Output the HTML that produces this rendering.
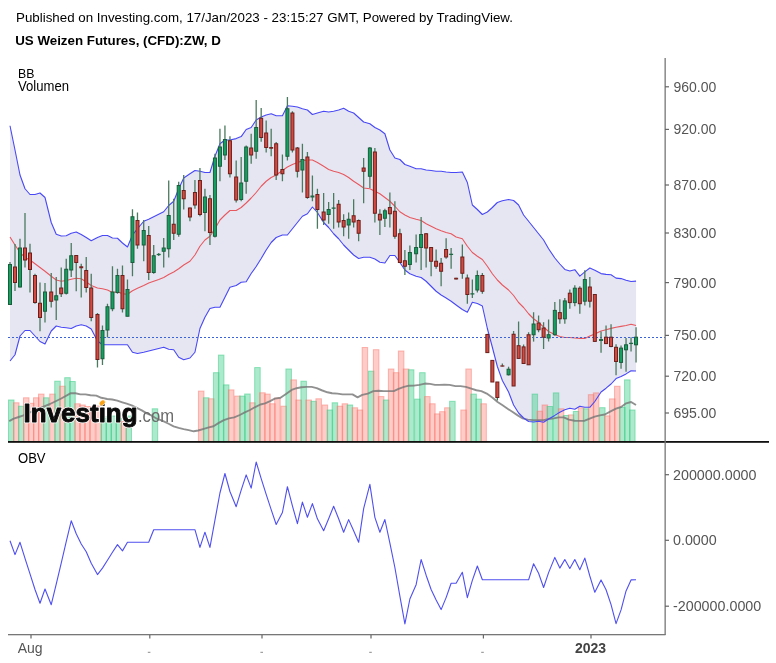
<!DOCTYPE html>
<html><head><meta charset="utf-8"><title>US Weizen Futures, (CFD):ZW, D</title>
<style>
html,body{margin:0;padding:0;background:#fff;}
body{width:776px;height:663px;overflow:hidden;position:relative;font-family:"Liberation Sans",Arial,sans-serif;}
#hdr{position:absolute;left:16px;top:9.8px;font-size:13.33px;line-height:16px;color:#000;white-space:nowrap;}
#ttl{position:absolute;left:15.2px;top:33px;font-size:13.33px;line-height:16px;font-weight:bold;color:#000;white-space:nowrap;}
svg{position:absolute;left:0;top:0;}
svg text{font-family:"Liberation Sans",Arial,sans-serif;}
</style></head><body>
<div id="hdr">Published on Investing.com, 17/Jan/2023 - 23:15:27 GMT, Powered by TradingView.</div>
<div id="ttl">US Weizen Futures, (CFD):ZW, D</div>
<svg width="776" height="663" viewBox="0 0 776 663">

<polygon fill="#e6e6f2" points="10,125.75 15,150 20,175 25,188.75 30,194.5 35,194.5 40,193 45,197.5 51.23,222.5 56.23,234.25 61.23,236 66.23,235.75 71.23,233.25 76.23,232 81.23,234.5 86.23,237.5 91.23,240.75 97.47,237.5 102.47,235.5 107.47,235.5 112.47,238 117.47,238.25 122.47,243 127.47,247 132.47,235 137.47,228.75 143.71,221.25 148.71,219.25 153.71,216.75 158.71,214.25 163.71,211.75 168.71,205.5 173.71,201.25 178.71,188.75 183.71,178 189.94,173.75 194.94,170.5 199.94,171.25 204.94,172.5 209.94,172.5 214.94,156.25 219.94,143.75 224.94,140 229.94,140 236.18,138.6 241.18,136.6 246.18,129.5 251.18,127.5 256.18,120 261.18,117 266.18,115 271.18,113.75 276.18,115.75 282.41,115.75 287.41,105.75 292.41,106.25 297.41,107 302.41,108.75 307.41,110 312.41,114.5 317.41,113 323.64,111.25 328.64,112 333.64,111.25 338.64,110 343.64,108.25 348.64,111.25 353.64,113 358.64,117.5 363.64,122 369.88,123.75 374.88,127.5 379.88,130 384.88,133.75 389.88,150 394.88,158 399.88,159.5 404.88,164.5 409.88,166.25 416.12,168.75 421.12,168.75 426.12,170 431.12,170.5 436.12,171.25 441.12,171.25 446.12,172 451.12,172.5 456.12,172.5 462.35,172 467.35,182.5 472.35,205 477.35,209.5 482.35,214.5 487.35,212 492.35,207.5 497.35,202.5 502.35,200.75 508.58,199.5 513.59,200.5 518.59,205 523.59,215 528.59,221.25 533.59,227.5 538.59,233.75 543.59,240 548.59,248.75 554.82,258 559.82,264 564.82,269.4 569.82,271 574.82,269.7 579.82,276.1 584.82,271.9 589.82,268 594.82,270.2 601.05,273.6 606.05,274.4 611.05,274.8 616.05,278.1 621.05,278.6 626.05,280.3 631.05,281.5 636.05,281.1 636.05,371 631.05,370.7 626.05,373.9 621.05,376.5 616.05,378.6 611.05,384 606.05,388.2 601.05,392 594.82,401.5 589.82,407.3 584.82,407.3 579.82,406.2 574.82,409.2 569.82,408.3 564.82,409.7 559.82,412.2 554.82,415.4 548.59,419 543.59,422.2 538.59,421.2 533.59,422 528.59,421.5 523.59,418 518.59,413 513.59,405 508.58,392 502.35,380.5 497.35,366.5 492.35,347.25 487.35,328.5 482.35,306 477.35,303.5 472.35,302.25 467.35,312.25 462.35,309.5 456.12,305 451.12,301.25 446.12,298 441.12,295 436.12,291.25 431.12,286.25 426.12,281.25 421.12,277.5 416.12,276.25 409.88,273.75 404.88,270 399.88,262.5 394.88,255.5 389.88,255.5 384.88,263 379.88,262.25 374.88,259 369.88,257.25 363.64,257.25 358.64,258.5 353.64,255 348.64,250 343.64,245 338.64,238.75 333.64,233.75 328.64,227.5 323.64,222.5 317.41,212.5 312.41,207 307.41,213.75 302.41,216.25 297.41,222.5 292.41,228.75 287.41,235 282.41,235 276.18,237.5 271.18,242.5 266.18,250 261.18,258.5 256.18,266.5 251.18,273.5 246.18,281.75 241.18,282.25 236.18,285.5 229.94,287.25 224.94,297.25 219.94,307.25 214.94,307.25 209.94,308.5 204.94,317.25 199.94,328.5 194.94,352.25 189.94,358 183.71,359.75 178.71,357.25 173.71,349.75 168.71,349.25 163.71,347.25 158.71,348.5 153.71,349.75 148.71,351 143.71,352.25 137.47,353.5 132.47,352.25 127.47,344.75 122.47,344.75 117.47,344.75 112.47,344.75 107.47,344.75 102.47,344.75 97.47,341 91.23,329 86.23,326 81.23,324.75 76.23,326 71.23,328.5 66.23,327.75 61.23,327.25 56.23,326 51.23,331 45,344 40,341.5 35,336 30,330.5 25,330.5 20,336 15,354.75 10,361"/>
<g stroke-width="1">
<rect x="8.5" y="400" width="5.5" height="41.8" fill="rgba(60,205,135,0.42)" stroke="rgba(60,205,135,0.55)"/>
<rect x="13.5" y="402.8" width="5.5" height="39" fill="rgba(255,120,110,0.38)" stroke="rgba(250,120,110,0.5)"/>
<rect x="18.5" y="406.2" width="5.5" height="35.6" fill="rgba(60,205,135,0.42)" stroke="rgba(60,205,135,0.55)"/>
<rect x="23.5" y="397.8" width="5.5" height="44" fill="rgba(255,120,110,0.38)" stroke="rgba(250,120,110,0.5)"/>
<rect x="28.5" y="403.3" width="5.5" height="38.5" fill="rgba(255,120,110,0.38)" stroke="rgba(250,120,110,0.5)"/>
<rect x="33.5" y="397.8" width="5.5" height="44" fill="rgba(255,120,110,0.38)" stroke="rgba(250,120,110,0.5)"/>
<rect x="38.5" y="394.1" width="5.5" height="47.7" fill="rgba(255,120,110,0.38)" stroke="rgba(250,120,110,0.5)"/>
<rect x="43.5" y="397.8" width="5.5" height="44" fill="rgba(60,205,135,0.42)" stroke="rgba(60,205,135,0.55)"/>
<rect x="49.73" y="394.1" width="5.5" height="47.7" fill="rgba(255,120,110,0.38)" stroke="rgba(250,120,110,0.5)"/>
<rect x="54.73" y="381.2" width="5.5" height="60.6" fill="rgba(60,205,135,0.42)" stroke="rgba(60,205,135,0.55)"/>
<rect x="59.73" y="386.2" width="5.5" height="55.6" fill="rgba(255,120,110,0.38)" stroke="rgba(250,120,110,0.5)"/>
<rect x="64.73" y="377.7" width="5.5" height="64.1" fill="rgba(60,205,135,0.42)" stroke="rgba(60,205,135,0.55)"/>
<rect x="69.73" y="381.5" width="5.5" height="60.3" fill="rgba(60,205,135,0.42)" stroke="rgba(60,205,135,0.55)"/>
<rect x="74.73" y="403.8" width="5.5" height="38" fill="rgba(255,120,110,0.38)" stroke="rgba(250,120,110,0.5)"/>
<rect x="79.73" y="405" width="5.5" height="36.8" fill="rgba(255,120,110,0.38)" stroke="rgba(250,120,110,0.5)"/>
<rect x="84.73" y="406.5" width="5.5" height="35.3" fill="rgba(255,120,110,0.38)" stroke="rgba(250,120,110,0.5)"/>
<rect x="89.73" y="407" width="5.5" height="34.8" fill="rgba(255,120,110,0.38)" stroke="rgba(250,120,110,0.5)"/>
<rect x="95.97" y="406" width="5.5" height="35.8" fill="rgba(255,120,110,0.38)" stroke="rgba(250,120,110,0.5)"/>
<rect x="100.97" y="418.5" width="5.5" height="23.3" fill="rgba(60,205,135,0.42)" stroke="rgba(60,205,135,0.55)"/>
<rect x="105.97" y="416.5" width="5.5" height="25.3" fill="rgba(60,205,135,0.42)" stroke="rgba(60,205,135,0.55)"/>
<rect x="110.97" y="416" width="5.5" height="25.8" fill="rgba(60,205,135,0.42)" stroke="rgba(60,205,135,0.55)"/>
<rect x="115.97" y="418.5" width="5.5" height="23.3" fill="rgba(60,205,135,0.42)" stroke="rgba(60,205,135,0.55)"/>
<rect x="120.97" y="421.5" width="5.5" height="20.3" fill="rgba(255,120,110,0.38)" stroke="rgba(250,120,110,0.5)"/>
<rect x="125.97" y="416" width="5.5" height="25.8" fill="rgba(60,205,135,0.42)" stroke="rgba(60,205,135,0.55)"/>
<rect x="152.21" y="408.8" width="5.5" height="33" fill="rgba(60,205,135,0.42)" stroke="rgba(60,205,135,0.55)"/>
<rect x="198.44" y="391.1" width="5.5" height="50.7" fill="rgba(255,120,110,0.38)" stroke="rgba(250,120,110,0.5)"/>
<rect x="203.44" y="397.8" width="5.5" height="44" fill="rgba(60,205,135,0.42)" stroke="rgba(60,205,135,0.55)"/>
<rect x="208.44" y="398.8" width="5.5" height="43" fill="rgba(255,120,110,0.38)" stroke="rgba(250,120,110,0.5)"/>
<rect x="213.44" y="372.7" width="5.5" height="69.1" fill="rgba(60,205,135,0.42)" stroke="rgba(60,205,135,0.55)"/>
<rect x="218.44" y="355.1" width="5.5" height="86.7" fill="rgba(60,205,135,0.42)" stroke="rgba(60,205,135,0.55)"/>
<rect x="223.44" y="384.9" width="5.5" height="56.9" fill="rgba(60,205,135,0.42)" stroke="rgba(60,205,135,0.55)"/>
<rect x="228.44" y="389.9" width="5.5" height="51.9" fill="rgba(255,120,110,0.38)" stroke="rgba(250,120,110,0.5)"/>
<rect x="234.68" y="396.1" width="5.5" height="45.7" fill="rgba(255,120,110,0.38)" stroke="rgba(250,120,110,0.5)"/>
<rect x="239.68" y="396.1" width="5.5" height="45.7" fill="rgba(60,205,135,0.42)" stroke="rgba(60,205,135,0.55)"/>
<rect x="244.68" y="394" width="5.5" height="47.8" fill="rgba(60,205,135,0.42)" stroke="rgba(60,205,135,0.55)"/>
<rect x="249.68" y="402.8" width="5.5" height="39" fill="rgba(255,120,110,0.38)" stroke="rgba(250,120,110,0.5)"/>
<rect x="254.68" y="367.6" width="5.5" height="74.2" fill="rgba(60,205,135,0.42)" stroke="rgba(60,205,135,0.55)"/>
<rect x="259.68" y="392.8" width="5.5" height="49" fill="rgba(255,120,110,0.38)" stroke="rgba(250,120,110,0.5)"/>
<rect x="264.68" y="394.1" width="5.5" height="47.7" fill="rgba(255,120,110,0.38)" stroke="rgba(250,120,110,0.5)"/>
<rect x="269.68" y="403.8" width="5.5" height="38" fill="rgba(255,120,110,0.38)" stroke="rgba(250,120,110,0.5)"/>
<rect x="274.68" y="398" width="5.5" height="43.8" fill="rgba(255,120,110,0.38)" stroke="rgba(250,120,110,0.5)"/>
<rect x="280.91" y="406.2" width="5.5" height="35.6" fill="rgba(255,120,110,0.38)" stroke="rgba(250,120,110,0.5)"/>
<rect x="285.91" y="369" width="5.5" height="72.8" fill="rgba(60,205,135,0.42)" stroke="rgba(60,205,135,0.55)"/>
<rect x="290.91" y="379.9" width="5.5" height="61.9" fill="rgba(255,120,110,0.38)" stroke="rgba(250,120,110,0.5)"/>
<rect x="295.91" y="400" width="5.5" height="41.8" fill="rgba(255,120,110,0.38)" stroke="rgba(250,120,110,0.5)"/>
<rect x="300.91" y="381.2" width="5.5" height="60.6" fill="rgba(60,205,135,0.42)" stroke="rgba(60,205,135,0.55)"/>
<rect x="305.91" y="400" width="5.5" height="41.8" fill="rgba(255,120,110,0.38)" stroke="rgba(250,120,110,0.5)"/>
<rect x="310.91" y="401.3" width="5.5" height="40.5" fill="rgba(60,205,135,0.42)" stroke="rgba(60,205,135,0.55)"/>
<rect x="315.91" y="398.8" width="5.5" height="43" fill="rgba(255,120,110,0.38)" stroke="rgba(250,120,110,0.5)"/>
<rect x="322.14" y="405" width="5.5" height="36.8" fill="rgba(255,120,110,0.38)" stroke="rgba(250,120,110,0.5)"/>
<rect x="327.14" y="410" width="5.5" height="31.8" fill="rgba(60,205,135,0.42)" stroke="rgba(60,205,135,0.55)"/>
<rect x="332.14" y="402.8" width="5.5" height="39" fill="rgba(60,205,135,0.42)" stroke="rgba(60,205,135,0.55)"/>
<rect x="337.14" y="406.2" width="5.5" height="35.6" fill="rgba(255,120,110,0.38)" stroke="rgba(250,120,110,0.5)"/>
<rect x="342.14" y="403.8" width="5.5" height="38" fill="rgba(255,120,110,0.38)" stroke="rgba(250,120,110,0.5)"/>
<rect x="347.14" y="405" width="5.5" height="36.8" fill="rgba(60,205,135,0.42)" stroke="rgba(60,205,135,0.55)"/>
<rect x="352.14" y="407.8" width="5.5" height="34" fill="rgba(255,120,110,0.38)" stroke="rgba(250,120,110,0.5)"/>
<rect x="357.14" y="410" width="5.5" height="31.8" fill="rgba(255,120,110,0.38)" stroke="rgba(250,120,110,0.5)"/>
<rect x="362.14" y="347.5" width="5.5" height="94.3" fill="rgba(255,120,110,0.38)" stroke="rgba(250,120,110,0.5)"/>
<rect x="368.38" y="371.15" width="5.5" height="70.65" fill="rgba(60,205,135,0.42)" stroke="rgba(60,205,135,0.55)"/>
<rect x="373.38" y="349.7" width="5.5" height="92.1" fill="rgba(255,120,110,0.38)" stroke="rgba(250,120,110,0.5)"/>
<rect x="378.38" y="396.6" width="5.5" height="45.2" fill="rgba(255,120,110,0.38)" stroke="rgba(250,120,110,0.5)"/>
<rect x="383.38" y="400" width="5.5" height="41.8" fill="rgba(60,205,135,0.42)" stroke="rgba(60,205,135,0.55)"/>
<rect x="388.38" y="369" width="5.5" height="72.8" fill="rgba(255,120,110,0.38)" stroke="rgba(250,120,110,0.5)"/>
<rect x="393.38" y="372.7" width="5.5" height="69.1" fill="rgba(255,120,110,0.38)" stroke="rgba(250,120,110,0.5)"/>
<rect x="398.38" y="351" width="5.5" height="90.8" fill="rgba(255,120,110,0.38)" stroke="rgba(250,120,110,0.5)"/>
<rect x="403.38" y="369" width="5.5" height="72.8" fill="rgba(255,120,110,0.38)" stroke="rgba(250,120,110,0.5)"/>
<rect x="408.38" y="369.8" width="5.5" height="72" fill="rgba(60,205,135,0.42)" stroke="rgba(60,205,135,0.55)"/>
<rect x="414.62" y="399.1" width="5.5" height="42.7" fill="rgba(60,205,135,0.42)" stroke="rgba(60,205,135,0.55)"/>
<rect x="419.62" y="372.7" width="5.5" height="69.1" fill="rgba(60,205,135,0.42)" stroke="rgba(60,205,135,0.55)"/>
<rect x="424.62" y="396.6" width="5.5" height="45.2" fill="rgba(255,120,110,0.38)" stroke="rgba(250,120,110,0.5)"/>
<rect x="429.62" y="403.8" width="5.5" height="38" fill="rgba(255,120,110,0.38)" stroke="rgba(250,120,110,0.5)"/>
<rect x="434.62" y="413.9" width="5.5" height="27.9" fill="rgba(255,120,110,0.38)" stroke="rgba(250,120,110,0.5)"/>
<rect x="439.62" y="411.7" width="5.5" height="30.1" fill="rgba(255,120,110,0.38)" stroke="rgba(250,120,110,0.5)"/>
<rect x="444.62" y="407.8" width="5.5" height="34" fill="rgba(255,120,110,0.38)" stroke="rgba(250,120,110,0.5)"/>
<rect x="449.62" y="401.3" width="5.5" height="40.5" fill="rgba(60,205,135,0.42)" stroke="rgba(60,205,135,0.55)"/>
<rect x="460.85" y="410" width="5.5" height="31.8" fill="rgba(255,120,110,0.38)" stroke="rgba(250,120,110,0.5)"/>
<rect x="465.85" y="369" width="5.5" height="72.8" fill="rgba(255,120,110,0.38)" stroke="rgba(250,120,110,0.5)"/>
<rect x="470.85" y="394.1" width="5.5" height="47.7" fill="rgba(60,205,135,0.42)" stroke="rgba(60,205,135,0.55)"/>
<rect x="475.85" y="399.1" width="5.5" height="42.7" fill="rgba(60,205,135,0.42)" stroke="rgba(60,205,135,0.55)"/>
<rect x="480.85" y="403.8" width="5.5" height="38" fill="rgba(255,120,110,0.38)" stroke="rgba(250,120,110,0.5)"/>
<rect x="532.09" y="394.1" width="5.5" height="47.7" fill="rgba(60,205,135,0.42)" stroke="rgba(60,205,135,0.55)"/>
<rect x="537.09" y="411.2" width="5.5" height="30.6" fill="rgba(255,120,110,0.38)" stroke="rgba(250,120,110,0.5)"/>
<rect x="542.09" y="405" width="5.5" height="36.8" fill="rgba(255,120,110,0.38)" stroke="rgba(250,120,110,0.5)"/>
<rect x="547.09" y="406.5" width="5.5" height="35.3" fill="rgba(60,205,135,0.42)" stroke="rgba(60,205,135,0.55)"/>
<rect x="553.32" y="392.9" width="5.5" height="48.9" fill="rgba(60,205,135,0.42)" stroke="rgba(60,205,135,0.55)"/>
<rect x="558.32" y="408.8" width="5.5" height="33" fill="rgba(255,120,110,0.38)" stroke="rgba(250,120,110,0.5)"/>
<rect x="563.32" y="415.5" width="5.5" height="26.3" fill="rgba(60,205,135,0.42)" stroke="rgba(60,205,135,0.55)"/>
<rect x="568.32" y="414.9" width="5.5" height="26.9" fill="rgba(255,120,110,0.38)" stroke="rgba(250,120,110,0.5)"/>
<rect x="573.32" y="411.5" width="5.5" height="30.3" fill="rgba(60,205,135,0.42)" stroke="rgba(60,205,135,0.55)"/>
<rect x="578.32" y="407.8" width="5.5" height="34" fill="rgba(255,120,110,0.38)" stroke="rgba(250,120,110,0.5)"/>
<rect x="583.32" y="408.8" width="5.5" height="33" fill="rgba(60,205,135,0.42)" stroke="rgba(60,205,135,0.55)"/>
<rect x="588.32" y="394.7" width="5.5" height="47.1" fill="rgba(255,120,110,0.38)" stroke="rgba(250,120,110,0.5)"/>
<rect x="593.32" y="392.9" width="5.5" height="48.9" fill="rgba(255,120,110,0.38)" stroke="rgba(250,120,110,0.5)"/>
<rect x="599.55" y="407.7" width="5.5" height="34.1" fill="rgba(60,205,135,0.42)" stroke="rgba(60,205,135,0.55)"/>
<rect x="604.55" y="415.9" width="5.5" height="25.9" fill="rgba(255,120,110,0.38)" stroke="rgba(250,120,110,0.5)"/>
<rect x="609.55" y="398.9" width="5.5" height="42.9" fill="rgba(255,120,110,0.38)" stroke="rgba(250,120,110,0.5)"/>
<rect x="614.55" y="386.25" width="5.5" height="55.55" fill="rgba(255,120,110,0.38)" stroke="rgba(250,120,110,0.5)"/>
<rect x="619.55" y="407.5" width="5.5" height="34.3" fill="rgba(60,205,135,0.42)" stroke="rgba(60,205,135,0.55)"/>
<rect x="624.55" y="379.9" width="5.5" height="61.9" fill="rgba(60,205,135,0.42)" stroke="rgba(60,205,135,0.55)"/>
<rect x="629.55" y="410" width="5.5" height="31.8" fill="rgba(60,205,135,0.42)" stroke="rgba(60,205,135,0.55)"/>
</g>
<polyline fill="none" stroke="#787878" stroke-opacity="0.82" stroke-width="1.9" stroke-linejoin="round" points="9.2,421.2 13.7,418.7 18.8,417 23.5,415.4 28.8,412.9 50,404 61.25,398.5 70.4,393.3 75.4,393.3 80.4,394.4 85.4,394.4 90.5,395.3 96.3,395.6 101.3,397.8 107.2,399 112.2,399.5 117.3,400.6 122.3,402.3 126.7,403.7 131.7,405.3 136.75,407.8 141.8,410.4 146.8,413.4 151.8,415.7 156.9,418.7 163.2,421.2 168.6,423.75 173.6,426.3 178.6,427.9 183.65,429.1 188.7,430.1 193.7,431.3 198.2,430.5 203.75,428.8 208.8,427.4 213.5,426.3 218.8,422.9 223.85,420.1 228.9,418.4 234.2,417.4 239.8,415 244.8,412.4 250,410 254.7,407.3 260.4,404.5 265.1,403.3 270.1,401.1 274.8,398.6 280.5,397.8 286,393.9 291.6,389.9 296.6,388.2 301.3,387.2 306.6,386.9 311.7,386.9 316.7,388.2 321.7,390.25 327.4,392.3 332.1,393.3 337.5,393.6 342.5,394.4 347.5,394.4 352.5,394.4 357.6,397.3 362.25,394.9 367.8,393.6 373.35,391.1 378.7,390.75 383.7,391.1 388.4,391.1 393.8,391.1 398.5,388.9 404,386.9 408.9,385.7 413.9,385.6 419.4,384.9 424.9,383.55 430,383.9 435,384.9 439.5,384.9 444.5,384.7 449.6,384.9 455.4,386.1 460.45,386.1 465.8,386.9 471.3,388.6 476.4,390.25 481.4,391.1 486.75,393.6 492.6,397.8 497.6,402 502.6,405.3 507.6,408.7 512.7,412 517.7,415.4 522.7,418.4 527.7,419.6 533.6,420.1 538.6,420.1 543.65,420.1 548.7,419 553.7,418.4 558.7,417.4 563.75,417.4 568.8,419.6 574.6,420.7 579.7,420.9 584.7,420.7 589.7,418.7 594.7,416.7 599.8,415.4 604.8,414.5 611,411.2 616,408.7 621.1,407 626.1,403.3 631.1,402 636,405"/>
<polyline fill="none" stroke="#4848f6" stroke-width="1.1" stroke-linejoin="round" points="10,125.75 15,150 20,175 25,188.75 30,194.5 35,194.5 40,193 45,197.5 51.23,222.5 56.23,234.25 61.23,236 66.23,235.75 71.23,233.25 76.23,232 81.23,234.5 86.23,237.5 91.23,240.75 97.47,237.5 102.47,235.5 107.47,235.5 112.47,238 117.47,238.25 122.47,243 127.47,247 132.47,235 137.47,228.75 143.71,221.25 148.71,219.25 153.71,216.75 158.71,214.25 163.71,211.75 168.71,205.5 173.71,201.25 178.71,188.75 183.71,178 189.94,173.75 194.94,170.5 199.94,171.25 204.94,172.5 209.94,172.5 214.94,156.25 219.94,143.75 224.94,140 229.94,140 236.18,138.6 241.18,136.6 246.18,129.5 251.18,127.5 256.18,120 261.18,117 266.18,115 271.18,113.75 276.18,115.75 282.41,115.75 287.41,105.75 292.41,106.25 297.41,107 302.41,108.75 307.41,110 312.41,114.5 317.41,113 323.64,111.25 328.64,112 333.64,111.25 338.64,110 343.64,108.25 348.64,111.25 353.64,113 358.64,117.5 363.64,122 369.88,123.75 374.88,127.5 379.88,130 384.88,133.75 389.88,150 394.88,158 399.88,159.5 404.88,164.5 409.88,166.25 416.12,168.75 421.12,168.75 426.12,170 431.12,170.5 436.12,171.25 441.12,171.25 446.12,172 451.12,172.5 456.12,172.5 462.35,172 467.35,182.5 472.35,205 477.35,209.5 482.35,214.5 487.35,212 492.35,207.5 497.35,202.5 502.35,200.75 508.58,199.5 513.59,200.5 518.59,205 523.59,215 528.59,221.25 533.59,227.5 538.59,233.75 543.59,240 548.59,248.75 554.82,258 559.82,264 564.82,269.4 569.82,271 574.82,269.7 579.82,276.1 584.82,271.9 589.82,268 594.82,270.2 601.05,273.6 606.05,274.4 611.05,274.8 616.05,278.1 621.05,278.6 626.05,280.3 631.05,281.5 636.05,281.1"/>
<polyline fill="none" stroke="#4848f6" stroke-width="1.1" stroke-linejoin="round" points="10,361 15,354.75 20,336 25,330.5 30,330.5 35,336 40,341.5 45,344 51.23,331 56.23,326 61.23,327.25 66.23,327.75 71.23,328.5 76.23,326 81.23,324.75 86.23,326 91.23,329 97.47,341 102.47,344.75 107.47,344.75 112.47,344.75 117.47,344.75 122.47,344.75 127.47,344.75 132.47,352.25 137.47,353.5 143.71,352.25 148.71,351 153.71,349.75 158.71,348.5 163.71,347.25 168.71,349.25 173.71,349.75 178.71,357.25 183.71,359.75 189.94,358 194.94,352.25 199.94,328.5 204.94,317.25 209.94,308.5 214.94,307.25 219.94,307.25 224.94,297.25 229.94,287.25 236.18,285.5 241.18,282.25 246.18,281.75 251.18,273.5 256.18,266.5 261.18,258.5 266.18,250 271.18,242.5 276.18,237.5 282.41,235 287.41,235 292.41,228.75 297.41,222.5 302.41,216.25 307.41,213.75 312.41,207 317.41,212.5 323.64,222.5 328.64,227.5 333.64,233.75 338.64,238.75 343.64,245 348.64,250 353.64,255 358.64,258.5 363.64,257.25 369.88,257.25 374.88,259 379.88,262.25 384.88,263 389.88,255.5 394.88,255.5 399.88,262.5 404.88,270 409.88,273.75 416.12,276.25 421.12,277.5 426.12,281.25 431.12,286.25 436.12,291.25 441.12,295 446.12,298 451.12,301.25 456.12,305 462.35,309.5 467.35,312.25 472.35,302.25 477.35,303.5 482.35,306 487.35,328.5 492.35,347.25 497.35,366.5 502.35,380.5 508.58,392 513.59,405 518.59,413 523.59,418 528.59,421.5 533.59,422 538.59,421.2 543.59,422.2 548.59,419 554.82,415.4 559.82,412.2 564.82,409.7 569.82,408.3 574.82,409.2 579.82,406.2 584.82,407.3 589.82,407.3 594.82,401.5 601.05,392 606.05,388.2 611.05,384 616.05,378.6 621.05,376.5 626.05,373.9 631.05,370.7 636.05,371"/>
<polyline fill="none" stroke="#e8585f" stroke-width="1.1" stroke-linejoin="round" points="10,237 15,245 20,252.5 25,257.5 30,260 35,263.75 40,267.5 45,271.25 51.23,276.25 56.23,280 61.23,281.25 66.23,280.5 71.23,279.25 76.23,278.25 81.23,278.75 86.23,282 91.23,285.5 97.47,288 102.47,288.75 107.47,290 112.47,292.5 117.47,291.75 122.47,293.75 127.47,294.25 132.47,290.75 137.47,288.25 143.71,285.5 148.71,283 153.71,281.25 158.71,279.5 163.71,277.5 168.71,274.5 173.71,272 178.71,268.75 183.71,265 189.94,261.25 194.94,255 199.94,246.25 204.94,240 209.94,236.25 214.94,228.75 219.94,220 224.94,215 229.94,210.5 236.18,210.5 241.18,207.5 246.18,203 251.18,198 256.18,192.5 261.18,186.25 266.18,181.25 271.18,177.5 276.18,175 282.41,170.5 287.41,167 292.41,164.5 297.41,162.5 302.41,160.75 307.41,160 312.41,160 317.41,162.5 323.64,166.25 328.64,169.5 333.64,171.25 338.64,172.5 343.64,174.5 348.64,177.5 353.64,181.25 358.64,184.5 363.64,188 369.88,188.75 374.88,191.25 379.88,193.75 384.88,197.5 389.88,201.25 394.88,206.25 399.88,211.75 404.88,215 409.88,217.5 416.12,219.25 421.12,220.5 426.12,223.75 431.12,226.25 436.12,228.75 441.12,230.75 446.12,232.5 451.12,233.75 456.12,237 462.35,238.75 467.35,246.25 472.35,252.5 477.35,256.25 482.35,259.5 487.35,266.25 492.35,273.75 497.35,280 502.35,285 508.58,290 513.59,295.5 518.59,302.5 523.59,307.5 528.59,313.75 533.59,318.75 538.59,322.5 543.59,327 548.59,331.5 554.82,334.5 559.82,336.5 564.82,337.5 569.82,337.5 574.82,338 579.82,338.4 584.82,338.4 589.82,336.1 594.82,333.9 601.05,331 606.05,329.7 611.05,328.4 616.05,327.2 621.05,326.4 626.05,325.5 631.05,324.3 636.05,325.5"/>
<line x1="8" y1="337.5" x2="665" y2="337.5" stroke="#3b63d8" stroke-width="1.2" stroke-dasharray="2,2"/>
<g>
<line x1="10" y1="262" x2="10" y2="305" stroke="#4a7a5f" stroke-width="1.3"/>
<rect x="8.5" y="264.5" width="3" height="40" fill="#14a160" stroke="#1a5c3b" stroke-width="1"/>
<line x1="15" y1="244" x2="15" y2="291" stroke="#4a7a5f" stroke-width="1.3"/>
<rect x="13.5" y="267" width="3" height="15.5" fill="#d54a40" stroke="#6b1f1a" stroke-width="1"/>
<line x1="20" y1="238.75" x2="20" y2="287.5" stroke="#4a7a5f" stroke-width="1.3"/>
<rect x="18.5" y="248" width="3" height="39" fill="#14a160" stroke="#1a5c3b" stroke-width="1"/>
<line x1="25" y1="213" x2="25" y2="267.5" stroke="#4a7a5f" stroke-width="1.3"/>
<rect x="23.5" y="248" width="3" height="12" fill="#d54a40" stroke="#6b1f1a" stroke-width="1"/>
<line x1="30" y1="243.75" x2="30" y2="292.5" stroke="#4a7a5f" stroke-width="1.3"/>
<rect x="28.5" y="253" width="3" height="16.5" fill="#d54a40" stroke="#6b1f1a" stroke-width="1"/>
<line x1="35" y1="273.75" x2="35" y2="303.75" stroke="#4a7a5f" stroke-width="1.3"/>
<rect x="33.5" y="275.5" width="3" height="27" fill="#d54a40" stroke="#6b1f1a" stroke-width="1"/>
<line x1="40" y1="282.5" x2="40" y2="331.25" stroke="#4a7a5f" stroke-width="1.3"/>
<rect x="38.5" y="303.25" width="3" height="14.25" fill="#d54a40" stroke="#6b1f1a" stroke-width="1"/>
<line x1="45" y1="283" x2="45" y2="322.5" stroke="#4a7a5f" stroke-width="1.3"/>
<rect x="43.5" y="292" width="3" height="19.25" fill="#14a160" stroke="#1a5c3b" stroke-width="1"/>
<line x1="51.23" y1="273" x2="51.23" y2="307.5" stroke="#4a7a5f" stroke-width="1.3"/>
<rect x="49.73" y="292" width="3" height="9.25" fill="#d54a40" stroke="#6b1f1a" stroke-width="1"/>
<line x1="56.23" y1="277" x2="56.23" y2="320" stroke="#4a7a5f" stroke-width="1.3"/>
<rect x="54.73" y="295.75" width="3" height="4.25" fill="#14a160" stroke="#1a5c3b" stroke-width="1"/>
<line x1="61.23" y1="267.5" x2="61.23" y2="297" stroke="#4a7a5f" stroke-width="1.3"/>
<rect x="59.73" y="288" width="3" height="5.75" fill="#d54a40" stroke="#6b1f1a" stroke-width="1"/>
<line x1="66.23" y1="258.75" x2="66.23" y2="294.5" stroke="#4a7a5f" stroke-width="1.3"/>
<rect x="64.73" y="269.25" width="3" height="24" fill="#14a160" stroke="#1a5c3b" stroke-width="1"/>
<line x1="71.23" y1="243" x2="71.23" y2="277" stroke="#4a7a5f" stroke-width="1.3"/>
<rect x="69.73" y="255.75" width="3" height="14.25" fill="#14a160" stroke="#1a5c3b" stroke-width="1"/>
<line x1="76.23" y1="255" x2="76.23" y2="291.25" stroke="#4a7a5f" stroke-width="1.3"/>
<rect x="74.73" y="255.5" width="3" height="7" fill="#d54a40" stroke="#6b1f1a" stroke-width="1"/>
<line x1="81.23" y1="263.75" x2="81.23" y2="297.5" stroke="#4a7a5f" stroke-width="1.3"/>
<rect x="79.23" y="266.25" width="4" height="2" fill="#7a2420"/>
<line x1="86.23" y1="257" x2="86.23" y2="292.5" stroke="#4a7a5f" stroke-width="1.3"/>
<rect x="84.73" y="270.5" width="3" height="17" fill="#d54a40" stroke="#6b1f1a" stroke-width="1"/>
<line x1="91.23" y1="273.75" x2="91.23" y2="321.25" stroke="#4a7a5f" stroke-width="1.3"/>
<rect x="89.73" y="288" width="3" height="29.5" fill="#d54a40" stroke="#6b1f1a" stroke-width="1"/>
<line x1="97.47" y1="313" x2="97.47" y2="367.5" stroke="#4a7a5f" stroke-width="1.3"/>
<rect x="95.97" y="314.5" width="3" height="45" fill="#d54a40" stroke="#6b1f1a" stroke-width="1"/>
<line x1="102.47" y1="325.5" x2="102.47" y2="365" stroke="#4a7a5f" stroke-width="1.3"/>
<rect x="100.97" y="330.5" width="3" height="28.25" fill="#14a160" stroke="#1a5c3b" stroke-width="1"/>
<line x1="107.47" y1="303.75" x2="107.47" y2="337.5" stroke="#4a7a5f" stroke-width="1.3"/>
<rect x="105.97" y="306.75" width="3" height="23.25" fill="#14a160" stroke="#1a5c3b" stroke-width="1"/>
<line x1="112.47" y1="266.25" x2="112.47" y2="311.25" stroke="#4a7a5f" stroke-width="1.3"/>
<rect x="110.97" y="292" width="3" height="16.75" fill="#14a160" stroke="#1a5c3b" stroke-width="1"/>
<line x1="117.47" y1="268.75" x2="117.47" y2="293.75" stroke="#4a7a5f" stroke-width="1.3"/>
<rect x="115.97" y="275.5" width="3" height="17" fill="#14a160" stroke="#1a5c3b" stroke-width="1"/>
<line x1="122.47" y1="265.5" x2="122.47" y2="312.5" stroke="#4a7a5f" stroke-width="1.3"/>
<rect x="120.97" y="275.5" width="3" height="33.25" fill="#d54a40" stroke="#6b1f1a" stroke-width="1"/>
<line x1="127.47" y1="279.5" x2="127.47" y2="316.25" stroke="#4a7a5f" stroke-width="1.3"/>
<rect x="125.97" y="289.5" width="3" height="26.75" fill="#14a160" stroke="#1a5c3b" stroke-width="1"/>
<line x1="132.47" y1="209.25" x2="132.47" y2="276.25" stroke="#4a7a5f" stroke-width="1.3"/>
<rect x="130.97" y="216.75" width="3" height="45.75" fill="#14a160" stroke="#1a5c3b" stroke-width="1"/>
<line x1="137.47" y1="212.5" x2="137.47" y2="248.75" stroke="#4a7a5f" stroke-width="1.3"/>
<rect x="135.97" y="220.5" width="3" height="24.5" fill="#d54a40" stroke="#6b1f1a" stroke-width="1"/>
<line x1="143.71" y1="220" x2="143.71" y2="261.25" stroke="#4a7a5f" stroke-width="1.3"/>
<rect x="142.21" y="230.5" width="3" height="14.5" fill="#14a160" stroke="#1a5c3b" stroke-width="1"/>
<line x1="148.71" y1="226" x2="148.71" y2="280" stroke="#4a7a5f" stroke-width="1.3"/>
<rect x="147.21" y="235.5" width="3" height="37" fill="#d54a40" stroke="#6b1f1a" stroke-width="1"/>
<line x1="153.71" y1="245" x2="153.71" y2="273.75" stroke="#4a7a5f" stroke-width="1.3"/>
<rect x="152.21" y="255.75" width="3" height="16.75" fill="#14a160" stroke="#1a5c3b" stroke-width="1"/>
<line x1="158.71" y1="253" x2="158.71" y2="256" stroke="#4a7a5f" stroke-width="1.3"/>
<rect x="156.71" y="253.85" width="4" height="1.3" fill="#1f6a45"/>
<line x1="163.71" y1="238" x2="163.71" y2="267.5" stroke="#4a7a5f" stroke-width="1.3"/>
<rect x="162.21" y="248" width="3" height="3.25" fill="#14a160" stroke="#1a5c3b" stroke-width="1"/>
<line x1="168.71" y1="180.5" x2="168.71" y2="257.5" stroke="#4a7a5f" stroke-width="1.3"/>
<rect x="167.21" y="215.5" width="3" height="33.25" fill="#14a160" stroke="#1a5c3b" stroke-width="1"/>
<line x1="173.71" y1="198.75" x2="173.71" y2="240" stroke="#4a7a5f" stroke-width="1.3"/>
<rect x="172.21" y="224.25" width="3" height="9" fill="#d54a40" stroke="#6b1f1a" stroke-width="1"/>
<line x1="178.71" y1="181.75" x2="178.71" y2="236.75" stroke="#4a7a5f" stroke-width="1.3"/>
<rect x="177.21" y="185.5" width="3" height="48.75" fill="#14a160" stroke="#1a5c3b" stroke-width="1"/>
<line x1="183.71" y1="175" x2="183.71" y2="209.5" stroke="#4a7a5f" stroke-width="1.3"/>
<rect x="182.21" y="190.5" width="3" height="8.25" fill="#d54a40" stroke="#6b1f1a" stroke-width="1"/>
<line x1="189.94" y1="207.5" x2="189.94" y2="221.25" stroke="#4a7a5f" stroke-width="1.3"/>
<rect x="188.44" y="208" width="3" height="9" fill="#d54a40" stroke="#6b1f1a" stroke-width="1"/>
<line x1="194.94" y1="180" x2="194.94" y2="208.75" stroke="#4a7a5f" stroke-width="1.3"/>
<rect x="193.44" y="192.5" width="3" height="12.5" fill="#d54a40" stroke="#6b1f1a" stroke-width="1"/>
<line x1="199.94" y1="168" x2="199.94" y2="216.25" stroke="#4a7a5f" stroke-width="1.3"/>
<rect x="198.44" y="180.5" width="3" height="34" fill="#d54a40" stroke="#6b1f1a" stroke-width="1"/>
<line x1="204.94" y1="188.75" x2="204.94" y2="231.25" stroke="#4a7a5f" stroke-width="1.3"/>
<rect x="203.44" y="197" width="3" height="15.5" fill="#14a160" stroke="#1a5c3b" stroke-width="1"/>
<line x1="209.94" y1="195" x2="209.94" y2="245" stroke="#4a7a5f" stroke-width="1.3"/>
<rect x="208.44" y="198.75" width="3" height="33.75" fill="#d54a40" stroke="#6b1f1a" stroke-width="1"/>
<line x1="214.94" y1="153.75" x2="214.94" y2="237.5" stroke="#4a7a5f" stroke-width="1.3"/>
<rect x="213.44" y="158" width="3" height="78.25" fill="#14a160" stroke="#1a5c3b" stroke-width="1"/>
<line x1="219.94" y1="128.75" x2="219.94" y2="181.25" stroke="#4a7a5f" stroke-width="1.3"/>
<rect x="218.44" y="147" width="3" height="19.25" fill="#14a160" stroke="#1a5c3b" stroke-width="1"/>
<line x1="224.94" y1="125.5" x2="224.94" y2="160" stroke="#4a7a5f" stroke-width="1.3"/>
<rect x="223.44" y="139.5" width="3" height="15.5" fill="#14a160" stroke="#1a5c3b" stroke-width="1"/>
<line x1="229.94" y1="136.25" x2="229.94" y2="177.5" stroke="#4a7a5f" stroke-width="1.3"/>
<rect x="228.44" y="140.75" width="3" height="33" fill="#d54a40" stroke="#6b1f1a" stroke-width="1"/>
<line x1="236.18" y1="160.5" x2="236.18" y2="202.5" stroke="#4a7a5f" stroke-width="1.3"/>
<rect x="234.68" y="177" width="3" height="23" fill="#d54a40" stroke="#6b1f1a" stroke-width="1"/>
<line x1="241.18" y1="157" x2="241.18" y2="201.25" stroke="#4a7a5f" stroke-width="1.3"/>
<rect x="239.68" y="183" width="3" height="16.5" fill="#14a160" stroke="#1a5c3b" stroke-width="1"/>
<line x1="246.18" y1="145.5" x2="246.18" y2="193.75" stroke="#4a7a5f" stroke-width="1.3"/>
<rect x="244.68" y="147" width="3" height="34.25" fill="#14a160" stroke="#1a5c3b" stroke-width="1"/>
<line x1="251.18" y1="133.75" x2="251.18" y2="163.75" stroke="#4a7a5f" stroke-width="1.3"/>
<rect x="249.68" y="148" width="3" height="7" fill="#d54a40" stroke="#6b1f1a" stroke-width="1"/>
<line x1="256.18" y1="100" x2="256.18" y2="158.75" stroke="#4a7a5f" stroke-width="1.3"/>
<rect x="254.68" y="127.5" width="3" height="23.75" fill="#14a160" stroke="#1a5c3b" stroke-width="1"/>
<line x1="261.18" y1="108" x2="261.18" y2="141.75" stroke="#4a7a5f" stroke-width="1.3"/>
<rect x="259.68" y="118.25" width="3" height="19.25" fill="#d54a40" stroke="#6b1f1a" stroke-width="1"/>
<line x1="266.18" y1="120.5" x2="266.18" y2="152.5" stroke="#4a7a5f" stroke-width="1.3"/>
<rect x="264.68" y="133" width="3" height="14.5" fill="#d54a40" stroke="#6b1f1a" stroke-width="1"/>
<line x1="271.18" y1="128.75" x2="271.18" y2="156.25" stroke="#4a7a5f" stroke-width="1.3"/>
<rect x="269.18" y="147" width="4" height="1.75" fill="#7a2420"/>
<line x1="276.18" y1="142" x2="276.18" y2="180" stroke="#4a7a5f" stroke-width="1.3"/>
<rect x="274.68" y="143.75" width="3" height="31.25" fill="#d54a40" stroke="#6b1f1a" stroke-width="1"/>
<line x1="282.41" y1="154.5" x2="282.41" y2="181.25" stroke="#4a7a5f" stroke-width="1.3"/>
<rect x="280.91" y="169.5" width="3" height="4.25" fill="#d54a40" stroke="#6b1f1a" stroke-width="1"/>
<line x1="287.41" y1="97" x2="287.41" y2="160.5" stroke="#4a7a5f" stroke-width="1.3"/>
<rect x="285.91" y="108.75" width="3" height="47.5" fill="#14a160" stroke="#1a5c3b" stroke-width="1"/>
<line x1="292.41" y1="111.25" x2="292.41" y2="152.5" stroke="#4a7a5f" stroke-width="1.3"/>
<rect x="290.91" y="113" width="3" height="37" fill="#d54a40" stroke="#6b1f1a" stroke-width="1"/>
<line x1="297.41" y1="147" x2="297.41" y2="177.5" stroke="#4a7a5f" stroke-width="1.3"/>
<rect x="295.91" y="148" width="3" height="23.25" fill="#d54a40" stroke="#6b1f1a" stroke-width="1"/>
<line x1="302.41" y1="143.75" x2="302.41" y2="192.5" stroke="#4a7a5f" stroke-width="1.3"/>
<rect x="300.91" y="159.5" width="3" height="10.5" fill="#14a160" stroke="#1a5c3b" stroke-width="1"/>
<line x1="307.41" y1="152" x2="307.41" y2="198.75" stroke="#4a7a5f" stroke-width="1.3"/>
<rect x="305.91" y="157" width="3" height="40.5" fill="#d54a40" stroke="#6b1f1a" stroke-width="1"/>
<line x1="312.41" y1="175.5" x2="312.41" y2="201.25" stroke="#4a7a5f" stroke-width="1.3"/>
<rect x="310.41" y="195.5" width="4" height="2" fill="#1f6a45"/>
<line x1="317.41" y1="188.75" x2="317.41" y2="228.75" stroke="#4a7a5f" stroke-width="1.3"/>
<rect x="315.91" y="194.5" width="3" height="15" fill="#d54a40" stroke="#6b1f1a" stroke-width="1"/>
<line x1="323.64" y1="193" x2="323.64" y2="225" stroke="#4a7a5f" stroke-width="1.3"/>
<rect x="322.14" y="212" width="3" height="8" fill="#d54a40" stroke="#6b1f1a" stroke-width="1"/>
<line x1="328.64" y1="202" x2="328.64" y2="223.75" stroke="#4a7a5f" stroke-width="1.3"/>
<rect x="327.14" y="209.5" width="3" height="5" fill="#14a160" stroke="#1a5c3b" stroke-width="1"/>
<line x1="333.64" y1="193" x2="333.64" y2="228.75" stroke="#4a7a5f" stroke-width="1.3"/>
<rect x="331.64" y="207.47" width="4" height="1.3" fill="#1f6a45"/>
<line x1="338.64" y1="200" x2="338.64" y2="227.5" stroke="#4a7a5f" stroke-width="1.3"/>
<rect x="337.14" y="204.25" width="3" height="17.75" fill="#d54a40" stroke="#6b1f1a" stroke-width="1"/>
<line x1="343.64" y1="214.25" x2="343.64" y2="236.25" stroke="#4a7a5f" stroke-width="1.3"/>
<rect x="342.14" y="220.5" width="3" height="6.5" fill="#d54a40" stroke="#6b1f1a" stroke-width="1"/>
<line x1="348.64" y1="212.5" x2="348.64" y2="238.75" stroke="#4a7a5f" stroke-width="1.3"/>
<rect x="347.14" y="219.25" width="3" height="5.75" fill="#14a160" stroke="#1a5c3b" stroke-width="1"/>
<line x1="353.64" y1="199.25" x2="353.64" y2="227.5" stroke="#4a7a5f" stroke-width="1.3"/>
<rect x="352.14" y="215.75" width="3" height="6.25" fill="#d54a40" stroke="#6b1f1a" stroke-width="1"/>
<line x1="358.64" y1="219.5" x2="358.64" y2="241.25" stroke="#4a7a5f" stroke-width="1.3"/>
<rect x="357.14" y="220.5" width="3" height="12.75" fill="#d54a40" stroke="#6b1f1a" stroke-width="1"/>
<line x1="363.64" y1="158" x2="363.64" y2="203.25" stroke="#4a7a5f" stroke-width="1.3"/>
<rect x="362.14" y="168" width="3" height="3.25" fill="#d54a40" stroke="#6b1f1a" stroke-width="1"/>
<line x1="369.88" y1="147" x2="369.88" y2="188" stroke="#4a7a5f" stroke-width="1.3"/>
<rect x="368.38" y="148" width="3" height="28.25" fill="#14a160" stroke="#1a5c3b" stroke-width="1"/>
<line x1="374.88" y1="148" x2="374.88" y2="222.5" stroke="#4a7a5f" stroke-width="1.3"/>
<rect x="373.38" y="152" width="3" height="61.25" fill="#d54a40" stroke="#6b1f1a" stroke-width="1"/>
<line x1="379.88" y1="209.25" x2="379.88" y2="235" stroke="#4a7a5f" stroke-width="1.3"/>
<rect x="378.38" y="214.25" width="3" height="5.75" fill="#d54a40" stroke="#6b1f1a" stroke-width="1"/>
<line x1="384.88" y1="208.75" x2="384.88" y2="227" stroke="#4a7a5f" stroke-width="1.3"/>
<rect x="383.38" y="210.75" width="3" height="7.5" fill="#14a160" stroke="#1a5c3b" stroke-width="1"/>
<line x1="389.88" y1="192.5" x2="389.88" y2="227.5" stroke="#4a7a5f" stroke-width="1.3"/>
<rect x="388.38" y="207.5" width="3" height="6.25" fill="#d54a40" stroke="#6b1f1a" stroke-width="1"/>
<line x1="394.88" y1="201.25" x2="394.88" y2="238.75" stroke="#4a7a5f" stroke-width="1.3"/>
<rect x="393.38" y="211.25" width="3" height="25" fill="#d54a40" stroke="#6b1f1a" stroke-width="1"/>
<line x1="399.88" y1="228.75" x2="399.88" y2="262.5" stroke="#4a7a5f" stroke-width="1.3"/>
<rect x="398.38" y="233.75" width="3" height="28.75" fill="#d54a40" stroke="#6b1f1a" stroke-width="1"/>
<line x1="404.88" y1="250" x2="404.88" y2="275" stroke="#4a7a5f" stroke-width="1.3"/>
<rect x="403.38" y="260.75" width="3" height="5.5" fill="#d54a40" stroke="#6b1f1a" stroke-width="1"/>
<line x1="409.88" y1="245.5" x2="409.88" y2="270" stroke="#4a7a5f" stroke-width="1.3"/>
<rect x="408.38" y="252.5" width="3" height="12" fill="#14a160" stroke="#1a5c3b" stroke-width="1"/>
<line x1="416.12" y1="234.5" x2="416.12" y2="262.5" stroke="#4a7a5f" stroke-width="1.3"/>
<rect x="414.62" y="247.5" width="3" height="6.25" fill="#14a160" stroke="#1a5c3b" stroke-width="1"/>
<line x1="421.12" y1="217" x2="421.12" y2="270" stroke="#4a7a5f" stroke-width="1.3"/>
<rect x="419.62" y="234.5" width="3" height="13" fill="#14a160" stroke="#1a5c3b" stroke-width="1"/>
<line x1="426.12" y1="233" x2="426.12" y2="267.5" stroke="#4a7a5f" stroke-width="1.3"/>
<rect x="424.62" y="233.75" width="3" height="14.25" fill="#d54a40" stroke="#6b1f1a" stroke-width="1"/>
<line x1="431.12" y1="247" x2="431.12" y2="276.25" stroke="#4a7a5f" stroke-width="1.3"/>
<rect x="429.62" y="247.5" width="3" height="13.75" fill="#d54a40" stroke="#6b1f1a" stroke-width="1"/>
<line x1="436.12" y1="249.5" x2="436.12" y2="268.75" stroke="#4a7a5f" stroke-width="1.3"/>
<rect x="434.62" y="261.25" width="3" height="5" fill="#d54a40" stroke="#6b1f1a" stroke-width="1"/>
<line x1="441.12" y1="258" x2="441.12" y2="286.25" stroke="#4a7a5f" stroke-width="1.3"/>
<rect x="439.62" y="263.25" width="3" height="8" fill="#d54a40" stroke="#6b1f1a" stroke-width="1"/>
<line x1="446.12" y1="238.25" x2="446.12" y2="258.75" stroke="#4a7a5f" stroke-width="1.3"/>
<rect x="444.62" y="249.5" width="3" height="7.5" fill="#d54a40" stroke="#6b1f1a" stroke-width="1"/>
<line x1="451.12" y1="248" x2="451.12" y2="268.75" stroke="#4a7a5f" stroke-width="1.3"/>
<rect x="449.12" y="253.72" width="4" height="1.3" fill="#1f6a45"/>
<line x1="456.12" y1="277.75" x2="456.12" y2="279.5" stroke="#4a7a5f" stroke-width="1.3"/>
<rect x="454.12" y="277.75" width="4" height="1.75" fill="#7a2420"/>
<line x1="462.35" y1="244.5" x2="462.35" y2="278.75" stroke="#4a7a5f" stroke-width="1.3"/>
<rect x="460.85" y="257" width="3" height="16.25" fill="#d54a40" stroke="#6b1f1a" stroke-width="1"/>
<line x1="467.35" y1="274.5" x2="467.35" y2="303.75" stroke="#4a7a5f" stroke-width="1.3"/>
<rect x="465.85" y="278" width="3" height="16.5" fill="#d54a40" stroke="#6b1f1a" stroke-width="1"/>
<line x1="472.35" y1="279.5" x2="472.35" y2="298" stroke="#4a7a5f" stroke-width="1.3"/>
<rect x="470.35" y="293.23" width="4" height="1.3" fill="#1f6a45"/>
<line x1="477.35" y1="270.5" x2="477.35" y2="292.5" stroke="#4a7a5f" stroke-width="1.3"/>
<rect x="475.85" y="275.5" width="3" height="14.5" fill="#14a160" stroke="#1a5c3b" stroke-width="1"/>
<line x1="482.35" y1="273" x2="482.35" y2="293.75" stroke="#4a7a5f" stroke-width="1.3"/>
<rect x="480.85" y="275.5" width="3" height="15.75" fill="#d54a40" stroke="#6b1f1a" stroke-width="1"/>
<line x1="487.35" y1="333.75" x2="487.35" y2="352.6" stroke="#4a7a5f" stroke-width="1.3"/>
<rect x="485.85" y="334.5" width="3" height="18.1" fill="#d54a40" stroke="#6b1f1a" stroke-width="1"/>
<line x1="492.35" y1="360.4" x2="492.35" y2="382" stroke="#4a7a5f" stroke-width="1.3"/>
<rect x="490.85" y="360.4" width="3" height="21.6" fill="#d54a40" stroke="#6b1f1a" stroke-width="1"/>
<line x1="497.35" y1="382" x2="497.35" y2="400.4" stroke="#4a7a5f" stroke-width="1.3"/>
<rect x="495.85" y="382" width="3" height="15.5" fill="#d54a40" stroke="#6b1f1a" stroke-width="1"/>
<line x1="502.35" y1="363.5" x2="502.35" y2="366.5" stroke="#4a7a5f" stroke-width="1.3"/>
<rect x="500.35" y="365.35" width="4" height="1.3" fill="#7a2420"/>
<line x1="508.58" y1="366.7" x2="508.58" y2="375.5" stroke="#4a7a5f" stroke-width="1.3"/>
<rect x="507.08" y="369.2" width="3" height="5.6" fill="#14a160" stroke="#1a5c3b" stroke-width="1"/>
<line x1="513.59" y1="331" x2="513.59" y2="386" stroke="#4a7a5f" stroke-width="1.3"/>
<rect x="512.09" y="334.25" width="3" height="51.75" fill="#d54a40" stroke="#6b1f1a" stroke-width="1"/>
<line x1="518.59" y1="321.5" x2="518.59" y2="358.5" stroke="#4a7a5f" stroke-width="1.3"/>
<rect x="517.09" y="345.7" width="3" height="12.7" fill="#d54a40" stroke="#6b1f1a" stroke-width="1"/>
<line x1="523.59" y1="344.5" x2="523.59" y2="363.5" stroke="#4a7a5f" stroke-width="1.3"/>
<rect x="522.09" y="346.9" width="3" height="16.6" fill="#d54a40" stroke="#6b1f1a" stroke-width="1"/>
<line x1="528.59" y1="332.25" x2="528.59" y2="364.8" stroke="#4a7a5f" stroke-width="1.3"/>
<rect x="527.09" y="334.75" width="3" height="30.05" fill="#d54a40" stroke="#6b1f1a" stroke-width="1"/>
<line x1="533.59" y1="312.25" x2="533.59" y2="341.6" stroke="#4a7a5f" stroke-width="1.3"/>
<rect x="532.09" y="324" width="3" height="10.75" fill="#14a160" stroke="#1a5c3b" stroke-width="1"/>
<line x1="538.59" y1="315.5" x2="538.59" y2="332.25" stroke="#4a7a5f" stroke-width="1.3"/>
<rect x="537.09" y="323" width="3" height="6.75" fill="#d54a40" stroke="#6b1f1a" stroke-width="1"/>
<line x1="543.59" y1="322.2" x2="543.59" y2="349" stroke="#4a7a5f" stroke-width="1.3"/>
<rect x="542.09" y="328" width="3" height="9.2" fill="#d54a40" stroke="#6b1f1a" stroke-width="1"/>
<line x1="548.59" y1="319.5" x2="548.59" y2="341.5" stroke="#4a7a5f" stroke-width="1.3"/>
<rect x="547.09" y="334.7" width="3" height="3.3" fill="#14a160" stroke="#1a5c3b" stroke-width="1"/>
<line x1="554.82" y1="302" x2="554.82" y2="335.7" stroke="#4a7a5f" stroke-width="1.3"/>
<rect x="553.32" y="310.4" width="3" height="24.3" fill="#14a160" stroke="#1a5c3b" stroke-width="1"/>
<line x1="559.82" y1="299.2" x2="559.82" y2="323.8" stroke="#4a7a5f" stroke-width="1.3"/>
<rect x="558.32" y="312.6" width="3" height="6.2" fill="#d54a40" stroke="#6b1f1a" stroke-width="1"/>
<line x1="564.82" y1="297.9" x2="564.82" y2="323.8" stroke="#4a7a5f" stroke-width="1.3"/>
<rect x="563.32" y="300.9" width="3" height="17.9" fill="#14a160" stroke="#1a5c3b" stroke-width="1"/>
<line x1="569.82" y1="289.5" x2="569.82" y2="308.8" stroke="#4a7a5f" stroke-width="1.3"/>
<rect x="568.32" y="293.2" width="3" height="9.4" fill="#d54a40" stroke="#6b1f1a" stroke-width="1"/>
<line x1="574.82" y1="285.3" x2="574.82" y2="306.2" stroke="#4a7a5f" stroke-width="1.3"/>
<rect x="573.32" y="288.2" width="3" height="14.4" fill="#14a160" stroke="#1a5c3b" stroke-width="1"/>
<line x1="579.82" y1="286.2" x2="579.82" y2="313.8" stroke="#4a7a5f" stroke-width="1.3"/>
<rect x="578.32" y="288.2" width="3" height="15.5" fill="#d54a40" stroke="#6b1f1a" stroke-width="1"/>
<line x1="584.82" y1="270.2" x2="584.82" y2="305.4" stroke="#4a7a5f" stroke-width="1.3"/>
<rect x="583.32" y="279.5" width="3" height="21.7" fill="#14a160" stroke="#1a5c3b" stroke-width="1"/>
<line x1="589.82" y1="277" x2="589.82" y2="307.6" stroke="#4a7a5f" stroke-width="1.3"/>
<rect x="588.32" y="287" width="3" height="14.2" fill="#d54a40" stroke="#6b1f1a" stroke-width="1"/>
<line x1="594.82" y1="294.2" x2="594.82" y2="341.4" stroke="#4a7a5f" stroke-width="1.3"/>
<rect x="593.32" y="294.5" width="3" height="46.9" fill="#d54a40" stroke="#6b1f1a" stroke-width="1"/>
<line x1="601.05" y1="331.4" x2="601.05" y2="352.8" stroke="#4a7a5f" stroke-width="1.3"/>
<rect x="599.05" y="339" width="4" height="2" fill="#1f6a45"/>
<line x1="606.05" y1="325.5" x2="606.05" y2="344" stroke="#4a7a5f" stroke-width="1.3"/>
<rect x="604.55" y="337.2" width="3" height="6.4" fill="#d54a40" stroke="#6b1f1a" stroke-width="1"/>
<line x1="611.05" y1="324.3" x2="611.05" y2="347.3" stroke="#4a7a5f" stroke-width="1.3"/>
<rect x="609.55" y="337.2" width="3" height="9.3" fill="#d54a40" stroke="#6b1f1a" stroke-width="1"/>
<line x1="616.05" y1="344.3" x2="616.05" y2="375.2" stroke="#4a7a5f" stroke-width="1.3"/>
<rect x="614.55" y="347.3" width="3" height="14.2" fill="#d54a40" stroke="#6b1f1a" stroke-width="1"/>
<line x1="621.05" y1="345.6" x2="621.05" y2="368.7" stroke="#4a7a5f" stroke-width="1.3"/>
<rect x="619.55" y="348.1" width="3" height="14.3" fill="#14a160" stroke="#1a5c3b" stroke-width="1"/>
<line x1="626.05" y1="338" x2="626.05" y2="371.8" stroke="#4a7a5f" stroke-width="1.3"/>
<rect x="624.55" y="344.8" width="3" height="5" fill="#14a160" stroke="#1a5c3b" stroke-width="1"/>
<line x1="631.05" y1="337.2" x2="631.05" y2="351.6" stroke="#4a7a5f" stroke-width="1.3"/>
<rect x="629.05" y="342.75" width="4" height="1.3" fill="#1f6a45"/>
<line x1="636.05" y1="327.2" x2="636.05" y2="362.6" stroke="#4a7a5f" stroke-width="1.3"/>
<rect x="634.55" y="337.2" width="3" height="7.6" fill="#14a160" stroke="#1a5c3b" stroke-width="1"/>
</g>
<text x="23.6" y="421.6" font-size="26" font-weight="bold" fill="#fff" textLength="114" lengthAdjust="spacingAndGlyphs" stroke="#fff" stroke-width="2.4" stroke-linejoin="round">Investing</text>
<ellipse cx="102.2" cy="402.9" rx="3.9" ry="3" fill="#fff" transform="rotate(-40 102.2 402.9)"/>
<text x="23.6" y="421.6" font-size="26" font-weight="bold" fill="#0a0a0a" textLength="114" lengthAdjust="spacingAndGlyphs" stroke="#0a0a0a" stroke-width="0.9" stroke-linejoin="round">Investing</text>
<text x="138" y="421.6" font-size="18" fill="#6b6b6b" textLength="36" lengthAdjust="spacingAndGlyphs">.com</text>
<ellipse cx="102.2" cy="402.8" rx="3.4" ry="2.4" fill="#f9a31a" stroke="#fff" stroke-width="0.6" transform="rotate(-40 102.2 402.8)"/>
<rect x="8" y="441" width="761" height="1.8" fill="#111"/>
<rect x="664.5" y="58" width="1.3" height="577" fill="#777"/>
<rect x="8" y="634" width="657.5" height="1.3" fill="#777"/>
<rect x="665" y="86.2" width="4" height="1.2" fill="#666"/>
<text x="673.4" y="91.8" font-size="14" fill="#555">960.00</text>
<rect x="665" y="128.8" width="4" height="1.2" fill="#666"/>
<text x="673.4" y="134.4" font-size="14" fill="#555">920.00</text>
<rect x="665" y="184.4" width="4" height="1.2" fill="#666"/>
<text x="673.4" y="190" font-size="14" fill="#555">870.00</text>
<rect x="665" y="232.4" width="4" height="1.2" fill="#666"/>
<text x="673.4" y="238" font-size="14" fill="#555">830.00</text>
<rect x="665" y="282" width="4" height="1.2" fill="#666"/>
<text x="673.4" y="287.6" font-size="14" fill="#555">790.00</text>
<rect x="665" y="334.8" width="4" height="1.2" fill="#666"/>
<text x="673.4" y="340.4" font-size="14" fill="#555">750.00</text>
<rect x="665" y="375.6" width="4" height="1.2" fill="#666"/>
<text x="673.4" y="381.2" font-size="14" fill="#555">720.00</text>
<rect x="665" y="412.4" width="4" height="1.2" fill="#666"/>
<text x="673.4" y="418" font-size="14" fill="#555">695.00</text>
<rect x="665" y="474.1" width="4" height="1.2" fill="#666"/>
<text x="673" y="479.7" font-size="14.3" fill="#555">200000.0000</text>
<rect x="665" y="539.7" width="4" height="1.2" fill="#666"/>
<text x="673" y="545.3" font-size="14.3" fill="#555">0.0000</text>
<rect x="665" y="605.6" width="4" height="1.2" fill="#666"/>
<text x="673" y="611.2" font-size="14.3" fill="#555">-200000.0000</text>
<rect x="30.4" y="635" width="1.2" height="3.5" fill="#666"/>
<rect x="149.2" y="635" width="1.2" height="3.5" fill="#666"/>
<rect x="261.4" y="635" width="1.2" height="3.5" fill="#666"/>
<rect x="370.4" y="635" width="1.2" height="3.5" fill="#666"/>
<rect x="482.8" y="635" width="1.2" height="3.5" fill="#666"/>
<rect x="590.4" y="635" width="1.2" height="3.5" fill="#666"/>
<rect x="147.8" y="651.8" width="2.6" height="1" fill="#8a8a8a"/>
<rect x="260.4" y="651.8" width="2.6" height="1" fill="#8a8a8a"/>
<rect x="369.2" y="651.8" width="2.6" height="1" fill="#8a8a8a"/>
<rect x="481.2" y="651.8" width="2.6" height="1" fill="#8a8a8a"/>
<text x="30.2" y="653" font-size="14" fill="#555" text-anchor="middle">Aug</text>
<text x="590.5" y="652.8" font-size="14" font-weight="bold" fill="#444" text-anchor="middle">2023</text>
<text x="18" y="77.9" font-size="13.6" fill="#000" textLength="16.4" lengthAdjust="spacingAndGlyphs">BB</text>
<text x="18" y="90.9" font-size="14" fill="#000" textLength="51" lengthAdjust="spacingAndGlyphs">Volumen</text>
<text x="18" y="463.2" font-size="14" fill="#000" textLength="27.6" lengthAdjust="spacingAndGlyphs">OBV</text>
<polyline fill="none" stroke="#4f4ff0" stroke-width="1.1" stroke-linejoin="round" points="10,540.8 15,554.6 20,542.3 25,558.3 30,573.8 35,589.5 40,603.3 45,589 51.23,604.7 56.23,584.1 61.23,563.2 66.23,541.7 71.23,520.8 76.23,533.7 81.23,544 86.23,551.7 91.23,563.2 97.47,574.6 102.47,568.1 107.47,560.3 112.47,552.3 117.47,544.6 122.47,550.9 127.47,542.3 132.47,542.3 137.47,542.3 143.71,542.3 148.71,542.3 153.71,529.7 158.71,529.7 163.71,529.7 168.71,529.7 173.71,529.7 178.71,529.7 183.71,529.7 189.94,529.7 194.94,529.7 199.94,547.4 204.94,532.2 209.94,547.4 214.94,520.2 219.94,493 224.94,473.5 229.94,491.5 236.18,506.7 241.18,490.1 246.18,474.9 251.18,488.1 256.18,462 261.18,478.7 266.18,494.4 271.18,509.6 276.18,524.5 282.41,512.5 287.41,486.7 292.41,505.9 297.41,523.6 302.41,502.1 307.41,517.3 312.41,503.6 317.41,518.8 323.64,530.8 328.64,518.8 333.64,506.2 338.64,518.8 343.64,532.2 348.64,519.6 353.64,530.8 358.64,542.3 363.64,508.7 369.88,484.4 374.88,517.3 379.88,532.2 384.88,519.5 389.88,543.1 394.88,567.5 399.88,596.1 404.88,623.9 409.88,599 416.12,584.7 421.12,559.5 426.12,575.2 431.12,589.5 436.12,599.9 441.12,609.6 446.12,597.6 451.12,583.2 456.12,583.2 462.35,572.3 467.35,597.6 472.35,580.4 477.35,566 482.35,579.8 487.35,579.8 492.35,579.8 497.35,579.8 502.35,579.8 508.58,579.8 513.59,579.8 518.59,579.8 523.59,579.8 528.59,579.8 533.59,563.75 538.59,573.2 543.59,587.5 548.59,572.6 554.82,557.4 559.82,568.1 564.82,559.5 569.82,568.4 574.82,559.5 579.82,569.7 584.82,558.1 589.82,576 594.82,592.3 601.05,579.9 606.05,589.8 611.05,604.6 616.05,623.6 621.05,609.9 626.05,590.9 631.05,579.9 636.05,579.7"/>
</svg></body></html>
